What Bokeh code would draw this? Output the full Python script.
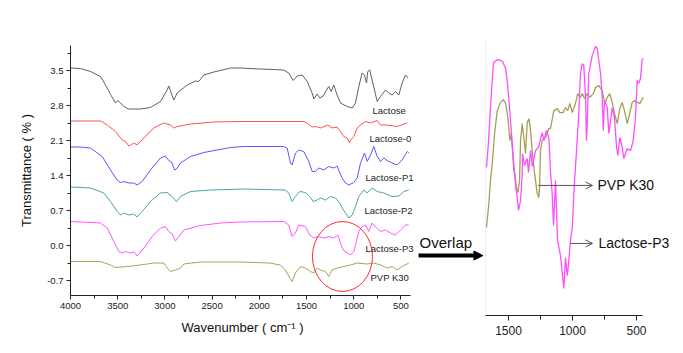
from bokeh.plotting import figure
from bokeh.layouts import row, column
from bokeh.models import Range1d, FixedTicker, PrintfTickFormatter, Label, Arrow, OpenHead, NormalHead, Spacer
from bokeh.embed import file_html
from bokeh.resources import INLINE

FONT = "Liberation Sans"

# ---------------- left panel data (wavenumber, transmittance offset) ----------------
lactose_wn = [4000, 3894, 3788, 3682, 3629, 3576, 3523, 3499, 3470, 3435, 3385, 3258, 3153, 3047, 2976, 2959,
              2933, 2906, 2870, 2764, 2676, 2641, 2588, 2482, 2305, 2199, 2000, 1850, 1744, 1688, 1641, 1599,
              1545, 1493, 1440, 1422, 1387, 1359, 1323, 1288, 1264, 1239, 1211, 1176, 1140, 1069, 1016, 981,
              946, 911, 886, 864, 851, 830, 805, 751, 716, 663, 628, 593, 557, 522, 487, 451, 423]
lactose_t = [3.55, 3.54, 3.48, 3.38, 3.21, 3.02, 2.85, 2.90, 2.85, 2.78, 2.73, 2.73, 2.76, 2.88, 3.11, 3.19,
             3.05, 2.91, 3.05, 3.21, 3.29, 3.28, 3.41, 3.47, 3.55, 3.55, 3.53, 3.52, 3.51, 3.45, 3.30, 3.39,
             3.41, 3.28, 3.05, 2.93, 3.03, 2.95, 2.99, 3.11, 3.18, 3.08, 3.21, 3.01, 2.85, 2.78, 2.75, 2.85,
             3.18, 3.45, 3.41, 3.25, 3.48, 3.51, 3.31, 2.88, 2.98, 3.11, 3.05, 3.01, 3.08, 3.01, 3.25, 3.41, 3.35]

lac0_wn = [4000, 3682, 3611, 3523, 3453, 3417, 3382, 3347, 3329, 3294, 3223, 3118, 3012, 2941, 2906, 2870,
           2729, 2482, 2199, 1532, 1493, 1440, 1405, 1352, 1275, 1229, 1176, 1140, 1105, 1069, 1045, 1034,
           999, 963, 928, 875, 822, 751, 716, 646, 540, 433]
lac0_t = [2.49, 2.49, 2.41, 2.28, 2.11, 2.08, 1.99, 2.03, 2.05, 2.01, 2.15, 2.35, 2.45, 2.41, 2.35, 2.38,
          2.43, 2.47, 2.48, 2.48, 2.45, 2.37, 2.38, 2.35, 2.41, 2.35, 2.37, 2.28, 2.18, 2.15, 2.06, 2.11,
          2.18, 2.35, 2.41, 2.48, 2.45, 2.50, 2.41, 2.41, 2.38, 2.45]

p1_wn = [4000, 3894, 3788, 3664, 3576, 3506, 3470, 3435, 3382, 3329, 3294, 3241, 3153, 3047, 2994, 2959,
         2923, 2898, 2877, 2835, 2729, 2588, 2446, 2305, 2164, 1744, 1705, 1670, 1652, 1617, 1582, 1529,
         1476, 1440, 1405, 1370, 1317, 1264, 1211, 1176, 1147, 1123, 1087, 1052, 999, 963, 928, 886, 857,
         822, 787, 751, 716, 681, 646, 593, 540, 487, 433, 416]
p1_t = [1.97, 1.97, 1.95, 1.78, 1.51, 1.31, 1.26, 1.28, 1.25, 1.25, 1.21, 1.28, 1.51, 1.75, 1.79, 1.70,
        1.65, 1.51, 1.53, 1.65, 1.78, 1.86, 1.91, 1.96, 1.98, 1.98, 1.95, 1.65, 1.61, 1.85, 1.91, 1.88,
        1.68, 1.48, 1.48, 1.55, 1.51, 1.58, 1.55, 1.59, 1.45, 1.35, 1.25, 1.21, 1.26, 1.35, 1.65, 1.85, 1.68,
        1.81, 1.98, 1.78, 1.68, 1.75, 1.70, 1.65, 1.61, 1.71, 1.88, 1.85]

p2_wn = [4000, 3788, 3647, 3576, 3506, 3470, 3435, 3382, 3329, 3294, 3241, 3153, 3047, 2976, 2923, 2877,
         2835, 2729, 2517, 2164, 1727, 1688, 1652, 1617, 1571, 1511, 1465, 1430, 1387, 1352, 1299, 1246,
         1193, 1147, 1123, 1087, 1052, 1016, 981, 946, 893, 857, 805, 751, 681, 593, 522, 469, 416]
p2_t = [1.17, 1.15, 1.05, 0.88, 0.68, 0.61, 0.65, 0.61, 0.63, 0.57, 0.68, 0.88, 1.05, 1.06, 0.98, 0.88,
        0.98, 1.08, 1.11, 1.13, 1.11, 1.05, 0.88, 0.98, 1.08, 1.06, 0.98, 0.88, 0.91, 0.95, 0.91, 0.98,
        0.95, 0.85, 0.75, 0.65, 0.55, 0.61, 0.78, 0.98, 1.11, 1.05, 1.15, 1.08, 1.05, 0.98, 0.99, 1.08, 1.11]

p3_wn = [4000, 3682, 3612, 3541, 3488, 3453, 3417, 3364, 3329, 3294, 3223, 3135, 3047, 2994, 2959, 2923,
         2888, 2852, 2800, 2623, 2411, 2199, 1740, 1688, 1652, 1617, 1582, 1511, 1465, 1422, 1370, 1317,
         1264, 1211, 1168, 1140, 1112, 1069, 1034, 999, 971, 946, 911, 875, 840, 805, 758, 716, 663, 610,
         557, 504, 451, 416]
p3_t = [0.48, 0.45, 0.35, 0.08, -0.12, -0.15, -0.12, -0.15, -0.13, -0.21, -0.05, 0.18, 0.35, 0.38, 0.28, 0.23,
        0.09, 0.18, 0.31, 0.40, 0.45, 0.47, 0.48, 0.41, 0.18, 0.25, 0.41, 0.38, 0.21, 0.15, 0.18, 0.15,
        0.18, 0.15, 0.21, 0.05, -0.09, -0.15, -0.19, -0.12, 0.08, 0.28, 0.38, 0.41, 0.28, 0.45, 0.35, 0.28, 0.31, 0.25,
        0.21, 0.31, 0.41, 0.41]

pvp_wn = [4000, 3682, 3576, 3523, 3400, 3258, 3118, 3012, 2976, 2941, 2888, 2835, 2800, 2623, 2199, 1893,
          1776, 1723, 1677, 1652, 1617, 1564, 1511, 1458, 1422, 1387, 1352, 1299, 1264, 1229, 1176, 1105,
          1034, 963, 857, 787, 716, 646, 593, 540, 487, 416]
pvp_t = [-0.32, -0.32, -0.39, -0.44, -0.42, -0.39, -0.35, -0.35, -0.45, -0.52, -0.49, -0.45, -0.37, -0.33, -0.33, -0.35,
         -0.39, -0.49, -0.65, -0.72, -0.55, -0.42, -0.45, -0.52, -0.55, -0.45, -0.49, -0.52, -0.62, -0.49, -0.45, -0.42,
         -0.39, -0.35, -0.37, -0.35, -0.39, -0.45, -0.42, -0.49, -0.42, -0.35]

y_ticks = [-0.7, 0.0, 0.7, 1.4, 2.1, 2.8, 3.5]
y_minor = [-0.35, 0.35, 1.05, 1.75, 2.45, 3.15, 3.85]
x_ticks = [4000, 3500, 3000, 2500, 2000, 1500, 1000, 500]
x_minor = [3750, 3250, 2750, 2250, 1750, 1250, 750]

series_names = ["Lactose", "Lactose-0", "Lactose-P1", "Lactose-P2", "Lactose-P3", "PVP K30"]

# ---------------- right panel data (overlap, 1700-450 cm-1) ----------------
ov_p3_wn = [1672, 1656, 1633, 1617, 1586, 1547, 1523, 1508, 1492, 1477, 1461, 1445, 1430, 1422, 1406, 1393,
            1391, 1375, 1354, 1344, 1328, 1313, 1289, 1266, 1237, 1224, 1203, 1185, 1172, 1159, 1148, 1133,
            1117, 1094, 1068, 1055, 1041, 1029, 1016, 1002, 990, 977, 951, 938, 924, 912, 898, 891, 885, 873,
            846, 820, 807, 781, 768, 760, 750, 729, 716, 703, 690, 672, 656, 646, 630, 612, 599, 573, 547,
            526, 508, 495, 483, 469, 457, 449]
ov_p3_t = [53.8, 63.6, 81.8, 92.0, 93.1, 92.4, 89.8, 84.4, 75.6, 66.2, 56.4, 47.3, 41.8, 38.2, 41.8, 51.6,
           58.9, 54.5, 57.1, 52.0, 60.0, 54.2, 60.0, 61.1, 66.5, 63.6, 67.3, 64.7, 52.0, 44.4, 32.7, 49.1,
           27.3, 21.8, 9.8, 21.1, 14.5, 20.0, 27.3, 32.0, 44.4, 53.8, 73.5, 88.0, 91.6, 90.9, 79.3, 63.6, 69.8, 88.0,
           94.5, 97.8, 97.1, 88.0, 79.3, 67.3, 78.2, 75.6, 66.2, 70.9, 75.6, 72.0, 61.1, 58.2, 64.7, 61.1, 57.1, 60.7, 60.0,
           63.6, 72.0, 85.5, 84.4, 86.2, 92.7, 93.5]

ov_pvp_wn = [1672, 1654, 1641, 1627, 1609, 1588, 1563, 1541, 1523, 1505, 1490, 1479, 1469, 1459, 1451, 1438,
             1427, 1414, 1406, 1393, 1380, 1367, 1354, 1341, 1328, 1315, 1302, 1289, 1276, 1263, 1258, 1250,
             1237, 1211, 1185, 1172, 1146, 1120, 1099, 1073, 1055, 1037, 1021, 1002, 977, 959, 938, 924, 906,
             885, 865, 838, 820, 795, 768, 748, 729, 709, 690, 672, 651, 630, 612, 594, 573, 552, 534, 516,
             495, 474, 448]
ov_pvp_t = [32.0, 40.7, 49.1, 55.3, 66.2, 74.5, 77.5, 78.5, 77.1, 72.0, 63.6, 66.2, 60.0, 52.7, 51.6, 46.5,
            44.7, 49.1, 63.6, 69.8, 64.7, 58.9, 70.2, 71.6, 67.3, 60.0, 53.8, 49.1, 44.4, 42.9, 46.5, 60.0,
            63.6, 64.7, 68.0, 68.0, 74.5, 75.3, 73.8, 73.8, 75.6, 74.5, 77.1, 73.8, 77.1, 80.7, 79.3, 80.7, 78.9,
            80.7, 79.3, 80.7, 82.9, 83.6, 81.8, 77.1, 79.3, 80.7, 77.5, 73.5, 69.8, 75.3, 77.5, 74.5, 69.8, 73.8, 77.5, 78.2,
            77.5, 77.1, 79.3]
ov_ticks = [1500, 1000, 500]
ov_minor = [1250, 750]

# ---------------- left figure ----------------
left = figure(width=416, height=353, x_range=Range1d(4000, 356), y_range=Range1d(-1.0, 4.0),
              output_backend="svg", toolbar_location=None,
              min_border_left=70, min_border_right=2, min_border_top=45, min_border_bottom=58,
              x_axis_label="Wavenumber ( cm\u207b\u00b9 )", y_axis_label="Transmittance ( % )")
left.grid.visible = False
left.outline_line_color = None

colors = ["#606060", "#ff5050", "#5858ff", "#49a5a5", "#ff55ff", "#a9a35e"]
data = [(lactose_wn, lactose_t), (lac0_wn, lac0_t), (p1_wn, p1_t), (p2_wn, p2_t), (p3_wn, p3_t), (pvp_wn, pvp_t)]
for (wx, wy), c in zip(data, colors):
    left.line(wx, wy, line_color=c, line_width=1)

left.xaxis.ticker = FixedTicker(ticks=x_ticks, minor_ticks=x_minor)
left.xaxis.bounds = (400, 4000)
left.yaxis.ticker = FixedTicker(ticks=y_ticks, minor_ticks=y_minor)
left.yaxis.formatter = PrintfTickFormatter(format="%.1f")
for ax in (left.xaxis[0], left.yaxis[0]):
    ax.axis_line_color = "#222222"
    ax.major_tick_line_color = "#222222"
    ax.minor_tick_line_color = "#222222"
    ax.major_tick_in = 0
    ax.major_tick_out = 4
    ax.minor_tick_in = 0
    ax.minor_tick_out = 3
    ax.major_label_text_font = FONT
    ax.major_label_text_font_size = "9.5px"
    ax.major_label_text_color = "#222222"
    ax.major_label_standoff = 3
    ax.axis_label_text_font = FONT
    ax.axis_label_text_font_size = "13px"
    ax.axis_label_text_font_style = "normal"
    ax.axis_label_text_color = "#111111"
left.yaxis.axis_label_standoff = 10
left.xaxis.axis_label_standoff = 8

label_pos = [(801, 2.71), (833, 2.14), (875, 1.37), (886, 0.71), (875, -0.05), (822, -0.63)]
for name, (lx, ly) in zip(series_names, label_pos):
    left.add_layout(Label(x=lx, y=ly, text=name, text_font=FONT, text_font_size="9.5px",
                          text_color="#222222", text_baseline="middle"))

left.ellipse(x=[1119], y=[-0.22], width=636, height=1.4, fill_color=None, line_color="#ff2a2a", line_width=1)

# ---------------- right figure (placed 20 px lower through a spacer) ----------------
right = figure(width=267, height=333, x_range=Range1d(2219, 133), y_range=Range1d(0, 100),
               output_backend="svg", toolbar_location=None, y_axis_location=None,
               min_border_left=0, min_border_right=0, min_border_top=20, min_border_bottom=38)
right.grid.visible = False
right.outline_line_color = None

right.segment(x0=[1680], y0=[0], x1=[1680], y1=[100], line_color="#eeeeee", line_width=1)
right.line(ov_pvp_wn, ov_pvp_t, line_color="#a59f55", line_width=1.3)
right.line(ov_p3_wn, ov_p3_t, line_color="#ff4dff", line_width=1.3)

ax = right.xaxis[0]
ax.ticker = FixedTicker(ticks=ov_ticks, minor_ticks=ov_minor)
ax.bounds = (450, 1680)
ax.axis_line_color = "#222222"
ax.major_tick_line_color = "#222222"
ax.minor_tick_line_color = "#222222"
ax.major_tick_in = 0
ax.major_tick_out = 5
ax.minor_tick_in = 0
ax.minor_tick_out = 4
ax.major_label_text_font = FONT
ax.major_label_text_font_size = "12px"
ax.major_label_text_color = "#222222"
ax.major_label_standoff = 5

right.add_layout(Label(x=2195, y=26.5, text="Overlap", text_font=FONT, text_font_size="15px",
                       text_color="#111111", text_baseline="middle"))
right.add_layout(Arrow(x_start=2203, y_start=21.8, x_end=1700, y_end=21.8, line_width=4, line_color="black",
                       end=NormalHead(size=9, fill_color="black", line_color="black")))
right.add_layout(Arrow(x_start=1266, y_start=47.3, x_end=844, y_end=47.3, line_width=1, line_color="#555555",
                       end=OpenHead(size=7, line_color="#555555", line_width=1)))
right.add_layout(Label(x=805, y=47.3, text="PVP K30", text_font=FONT, text_font_size="14px",
                       text_color="#111111", text_baseline="middle"))
right.add_layout(Arrow(x_start=1016, y_start=26.2, x_end=844, y_end=26.2, line_width=1, line_color="#555555",
                       end=OpenHead(size=7, line_color="#555555", line_width=1)))
right.add_layout(Label(x=797, y=26.2, text="Lactose-P3", text_font=FONT, text_font_size="14px",
                       text_color="#111111", text_baseline="middle"))

layout = row(left, column(Spacer(width=267, height=20), right))
open("out.html", "w").write(file_html(layout, INLINE))
